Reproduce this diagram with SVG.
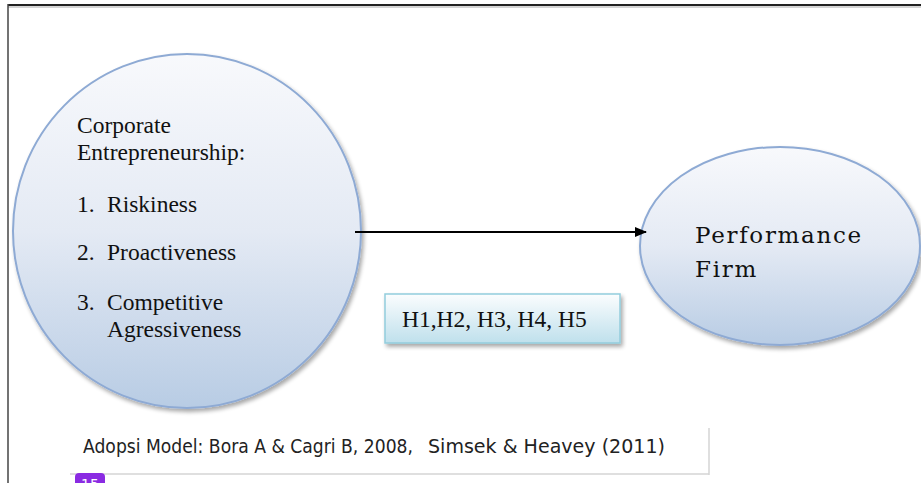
<svg xmlns="http://www.w3.org/2000/svg" width="921" height="483" viewBox="0 0 921 483">
<defs>
  <linearGradient id="gBlue" x1="0" y1="0" x2="0" y2="1">
    <stop offset="0" stop-color="#f8f9fc"/>
    <stop offset="0.5" stop-color="#e4eaf4"/>
    <stop offset="1" stop-color="#b8cce4"/>
  </linearGradient>
  <linearGradient id="gBox" x1="0" y1="0" x2="0" y2="1">
    <stop offset="0" stop-color="#fbfdfe"/>
    <stop offset="1" stop-color="#bfe0ec"/>
  </linearGradient>
  <filter id="sh" x="-10%" y="-10%" width="130%" height="130%">
    <feGaussianBlur in="SourceAlpha" stdDeviation="2"/>
    <feOffset dx="2" dy="3" result="b"/>
    <feComponentTransfer><feFuncA type="linear" slope="0.35"/></feComponentTransfer>
    <feMerge><feMergeNode/><feMergeNode in="SourceGraphic"/></feMerge>
  </filter>
  <marker id="arr" markerWidth="12" markerHeight="10" refX="11" refY="5" orient="auto" markerUnits="userSpaceOnUse">
    <path d="M0,0 L12,5 L0,10 Z" fill="#000"/>
  </marker>
  <style>
    .ser { font-family: "Liberation Serif", "Times New Roman", serif; font-size: 23.5px; fill: #111; }
    .perf { font-family: "DejaVu Serif", serif; font-size: 23px; letter-spacing: 1.7px; fill: #111; }
    .cap { font-family: "DejaVu Sans", Verdana, sans-serif; fill: #222; }
    .ell { fill: url(#gBlue); stroke: #8eaad4; stroke-width: 2; }
  </style>
</defs>
<rect width="921" height="483" fill="#fff"/>
<g id="border">
  <line x1="8" y1="5" x2="921" y2="5" stroke="#222" stroke-width="2"/>
  <line x1="8" y1="7" x2="921" y2="7" stroke="#aaa" stroke-width="1"/>
  <line x1="8" y1="4" x2="8" y2="483" stroke="#444" stroke-width="1.5"/>
</g>
<g id="ce">
  <ellipse class="ell" cx="187" cy="231" rx="174" ry="177" filter="url(#sh)"/>
  <text class="ser" x="77" y="133">Corporate</text>
  <text class="ser" x="77" y="160">Entrepreneurship:</text>
  <text class="ser" x="77" y="212">1.</text>
  <text class="ser" x="107" y="212">Riskiness</text>
  <text class="ser" x="77" y="260">2.</text>
  <text class="ser" x="107" y="260">Proactiveness</text>
  <text class="ser" x="77" y="310">3.</text>
  <text class="ser" x="107" y="310">Competitive</text>
  <text class="ser" x="107" y="337">Agressiveness</text>
</g>
<g id="pf">
  <ellipse class="ell" cx="780" cy="246" rx="140" ry="99" filter="url(#sh)"/>
  <text class="perf" x="695" y="243">Performance</text>
  <text class="perf" x="695" y="277">Firm</text>
</g>
<g id="connectors">
  <line x1="355" y1="232" x2="646" y2="232" stroke="#000" stroke-width="1.8" marker-end="url(#arr)"/>
</g>
<g id="hyp">
  <rect x="385" y="294" width="235" height="49" fill="url(#gBox)" stroke="#93cddd" stroke-width="1.5" filter="url(#sh)"/>
  <text class="ser" x="402" y="327">H1,H2, H3, H4, H5</text>
</g>
<g id="caption">
  <line x1="709" y1="428" x2="709" y2="475" stroke="#d4d4d4" stroke-width="1.5"/>
  <line x1="70" y1="474" x2="709" y2="474" stroke="#d4d4d4" stroke-width="1.5"/>
  <text class="cap" x="83" y="453" font-size="19" textLength="330" lengthAdjust="spacingAndGlyphs">Adopsi Model: Bora A &amp; Cagri B, 2008,</text>
  <text class="cap" x="428" y="453" font-size="20" textLength="237" lengthAdjust="spacingAndGlyphs">Simsek &amp; Heavey (2011)</text>
</g>
<g id="badge">
  <rect x="75" y="473" width="30" height="20" rx="4" fill="#8a2be2"/>
  <text x="90" y="489" font-family="DejaVu Sans, sans-serif" font-size="14" fill="#fff" text-anchor="middle">15</text>
</g>
</svg>
